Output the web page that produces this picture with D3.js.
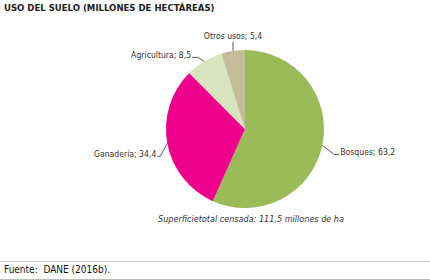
<!DOCTYPE html>
<html>
<head>
<meta charset="utf-8">
<script src="https://cdn.jsdelivr.net/npm/d3@7"></script>
<style>
  body { margin: 0; background: #fff; }
  text { fill: #333; white-space: pre; }
</style>
</head>
<body>
<div id="chart"></div>
<script>
// Data
var categories = ["Bosques", "Ganadería", "Agricultura", "Otros usos"];
var values = [63.2, 34.4, 8.5, 5.4];
var valueLabels = ["63,2", "34,4", "8,5", "5,4"];
var colors = ["#9bbb59", "#ec008c", "#d7e4bd", "#c4bd97"];

// leader line layout per slice: elbow offset from the slice edge, then a short horizontal run
var leaders = [
    { dx: 12, dy: 9, run: 5 },
    { dx: -7, dy: 13, run: -3 },
    { dx: -6, dy: -4, run: -6 },
    { dx: 0, dy: -9, run: 0 }
];

var svgWidth = 430;
var svgHeight = 280;
var radius = 79;
var cx = 245, cy = 129;
var font = "'Liberation Sans Narrow', 'DejaVu Sans Condensed', sans-serif";

var svg = d3.select("#chart")
    .append("svg")
    .attr("width", svgWidth)
    .attr("height", svgHeight);

// Title
svg.append("text")
    .attr("x", 4)
    .attr("y", 11)
    .style("font-family", font)
    .style("font-weight", "bold")
    .style("font-size", "9.5px")
    .style("fill", "#222")
    .text("USO DEL SUELO (MILLONES DE HECTÁREAS)");

var pie = d3.pie().sort(null).value(d => d);
var arcs = pie(values);
var arc = d3.arc().innerRadius(0).outerRadius(radius);

var pieGroup = svg.append("g")
    .attr("transform", `translate(${cx}, ${cy})`);

pieGroup.selectAll("path")
    .data(arcs)
    .enter()
    .append("path")
    .attr("d", arc)
    .attr("fill", (d, i) => colors[i]);

// leader lines + labels
arcs.forEach((d, i) => {
    var mid = (d.startAngle + d.endAngle) / 2;
    var x0 = radius * Math.sin(mid);
    var y0 = -radius * Math.cos(mid);
    var L = leaders[i];
    var x1 = x0 + L.dx, y1 = y0 + L.dy;
    var x2 = x1 + L.run;
    pieGroup.append("polyline")
        .attr("points", [[x0, y0], [x1, y1], [x2, y1]].map(p => p.join(",")).join(" "))
        .attr("fill", "none")
        .attr("stroke", "#333")
        .attr("stroke-width", 0.8);

    var label = pieGroup.append("text")
        .style("font-family", font)
        .style("font-size", "8.6px")
        .text(categories[i] + "; " + valueLabels[i]);
    if (L.run === 0) {
        label.attr("x", x1).attr("y", y1 - 3).attr("text-anchor", "middle");
    } else if (L.run > 0) {
        label.attr("x", x2 + 1).attr("y", y1 + 1).attr("text-anchor", "start");
    } else {
        label.attr("x", x2 - 1).attr("y", y1 + 1).attr("text-anchor", "end");
    }
});

// Total note
svg.append("text")
    .attr("x", 251)
    .attr("y", 222)
    .attr("text-anchor", "middle")
    .style("font-family", font)
    .style("font-style", "italic")
    .style("font-size", "9px")
    .text("Superficietotal censada: 111,5 millones de ha");

// Footer
svg.append("line")
    .attr("x1", 0).attr("x2", svgWidth)
    .attr("y1", 261.5).attr("y2", 261.5)
    .attr("stroke", "#ccc")
    .attr("stroke-width", 1);
svg.append("line")
    .attr("x1", 0).attr("x2", svgWidth)
    .attr("y1", 279.5).attr("y2", 279.5)
    .attr("stroke", "#bbb")
    .attr("stroke-width", 1);
svg.append("text")
    .attr("x", 4)
    .attr("y", 273)
    .style("font-family", font)
    .style("font-size", "10px")
    .style("fill", "#111")
    .text("Fuente:  DANE (2016b).");
</script>
</body>
</html>
